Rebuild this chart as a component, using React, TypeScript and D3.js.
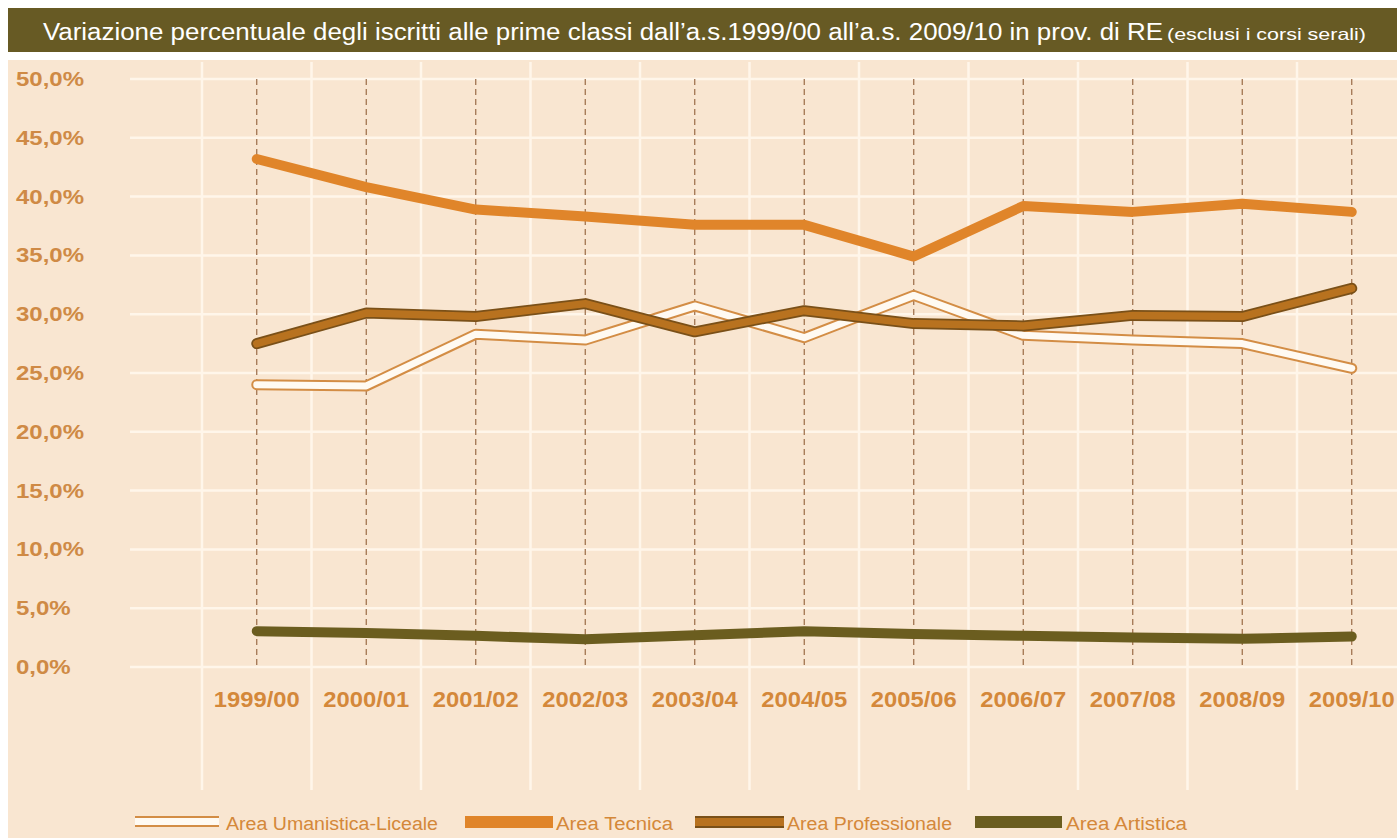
import React from "react";
import * as d3 from "d3";

const categories = ["1999/00","2000/01","2001/02","2002/03","2003/04","2004/05","2005/06","2006/07","2007/08","2008/09","2009/10"];
const umanistica = [24.0, 23.9, 28.3, 27.8, 30.7, 28.0, 31.6, 28.2, 27.8, 27.5, 25.4];
const tecnica = [43.2, 40.8, 38.9, 38.3, 37.6, 37.6, 34.9, 39.2, 38.7, 39.4, 38.7];
const professionale = [27.5, 30.1, 29.8, 30.9, 28.5, 30.3, 29.2, 29.0, 29.9, 29.8, 32.2];
const artistica = [3.05, 2.9, 2.65, 2.35, 2.7, 3.05, 2.8, 2.65, 2.5, 2.4, 2.6];
const yTicks = [0, 5, 10, 15, 20, 25, 30, 35, 40, 45, 50];
const legendLabels = ["Area Umanistica-Liceale", "Area Tecnica", "Area Professionale", "Area Artistica"];
const titleMain = "Variazione percentuale degli iscritti alle prime classi dall\u2019a.s.1999/00 all\u2019a.s. 2009/10 in prov. di RE";
const titleSub = "(esclusi i corsi serali)";

const W = 1397, H = 838;
const C = {
  bg: "#f9e6d1",
  bar: "#675a24",
  grid: "#fff6ea",
  label: "#d4883a",
  ylabel: "#cf8a45",
  dash: "#9a6a45",
  tecnica: "#e0852a",
  profFill: "#b8721f",
  profEdge: "#7a5018",
  umanEdge: "#d38d45",
  artistica: "#6b5d1f",
};

export default function App() {
  const x = d3.scaleBand<string>().domain(categories).range([202, 1406.5]);
  const cx = (c: string) => (x(c) as number) + x.bandwidth() / 2;
  const y = d3.scaleLinear().domain([0, 50]).range([667, 79]);
  const line = d3.line<number>().x((_, i) => cx(categories[i])).y((d) => y(d));
  const fmt = (v: number) => v.toFixed(1).replace(".", ",") + "%";
  const font = "'Liberation Sans', Arial, Helvetica, sans-serif";

  const bandEdges = categories.map((c) => x(c) as number).concat([x.range()[1]]);

  return (
    <svg width={W} height={H} style={{ position: "absolute", left: 0, top: 0, display: "block" }} fontFamily={font}>
      <rect x={0} y={0} width={W} height={H} fill="#ffffff" />
      <rect x={8} y={8} width={W - 8} height={44} fill={C.bar} />
      <text x={43} y={40} fill="#ffffff" fontSize={23} textLength={1120} lengthAdjust="spacingAndGlyphs">{titleMain}</text>
      <text x={1167} y={40} fill="#ffffff" fontSize={16.5} textLength={199} lengthAdjust="spacingAndGlyphs">{titleSub}</text>

      <rect x={8} y={60} width={W - 8} height={H - 60} fill={C.bg} />

      {yTicks.map((t) => (
        <line key={"h" + t} x1={130} x2={W} y1={y(t)} y2={y(t)} stroke={C.grid} strokeWidth={2.5} />
      ))}
      {bandEdges.map((e, i) => (
        <line key={"v" + i} x1={e} x2={e} y1={62} y2={790} stroke={C.grid} strokeWidth={2.5} />
      ))}
      {categories.map((c) => (
        <line key={"d" + c} x1={cx(c)} x2={cx(c)} y1={y(50)} y2={y(0)} stroke={C.dash} strokeWidth={1.2} strokeDasharray="6,4" />
      ))}

      {yTicks.map((t) => (
        <text key={"yl" + t} transform={`translate(16,${y(t) + 7}) scale(1.2,1)`} fill={C.ylabel} fontSize={20} fontWeight="bold">{fmt(t)}</text>
      ))}
      {categories.map((c) => (
        <text key={"xl" + c} transform={`translate(${cx(c)},707) scale(1.08,1)`} textAnchor="middle" fill={C.label} fontSize={22} fontWeight="bold">{c}</text>
      ))}

      <path d={line(umanistica) || ""} fill="none" stroke={C.umanEdge} strokeWidth={11} strokeLinejoin="round" strokeLinecap="round" />
      <path d={line(umanistica) || ""} fill="none" stroke="#fffaf2" strokeWidth={7} strokeLinejoin="round" strokeLinecap="round" />
      <path d={line(tecnica) || ""} fill="none" stroke={C.tecnica} strokeWidth={10} strokeLinejoin="round" strokeLinecap="round" />
      <path d={line(professionale) || ""} fill="none" stroke={C.profEdge} strokeWidth={11} strokeLinejoin="round" strokeLinecap="round" />
      <path d={line(professionale) || ""} fill="none" stroke={C.profFill} strokeWidth={7.5} strokeLinejoin="round" strokeLinecap="round" />
      <path d={line(artistica) || ""} fill="none" stroke={C.artistica} strokeWidth={10} strokeLinejoin="round" strokeLinecap="round" />

      <g>
        <rect x={135} y={816} width={84} height={11} fill={C.umanEdge} />
        <rect x={135} y={818} width={84} height={7} fill="#fffaf2" />
        <text x={226} y={830} fill={C.label} fontSize={18} textLength={212} lengthAdjust="spacingAndGlyphs">{legendLabels[0]}</text>

        <rect x={465} y={816} width={88} height={12} fill={C.tecnica} />
        <text x={556} y={830} fill={C.label} fontSize={18} textLength={117} lengthAdjust="spacingAndGlyphs">{legendLabels[1]}</text>

        <rect x={695} y={816} width={89} height={12} fill={C.profEdge} />
        <rect x={695} y={818} width={89} height={8} fill={C.profFill} />
        <text x={787} y={830} fill={C.label} fontSize={18} textLength={165} lengthAdjust="spacingAndGlyphs">{legendLabels[2]}</text>

        <rect x={975} y={816} width={87} height={12} fill={C.artistica} />
        <text x={1066} y={830} fill={C.label} fontSize={18} textLength={121} lengthAdjust="spacingAndGlyphs">{legendLabels[3]}</text>
      </g>
    </svg>
  );
}
